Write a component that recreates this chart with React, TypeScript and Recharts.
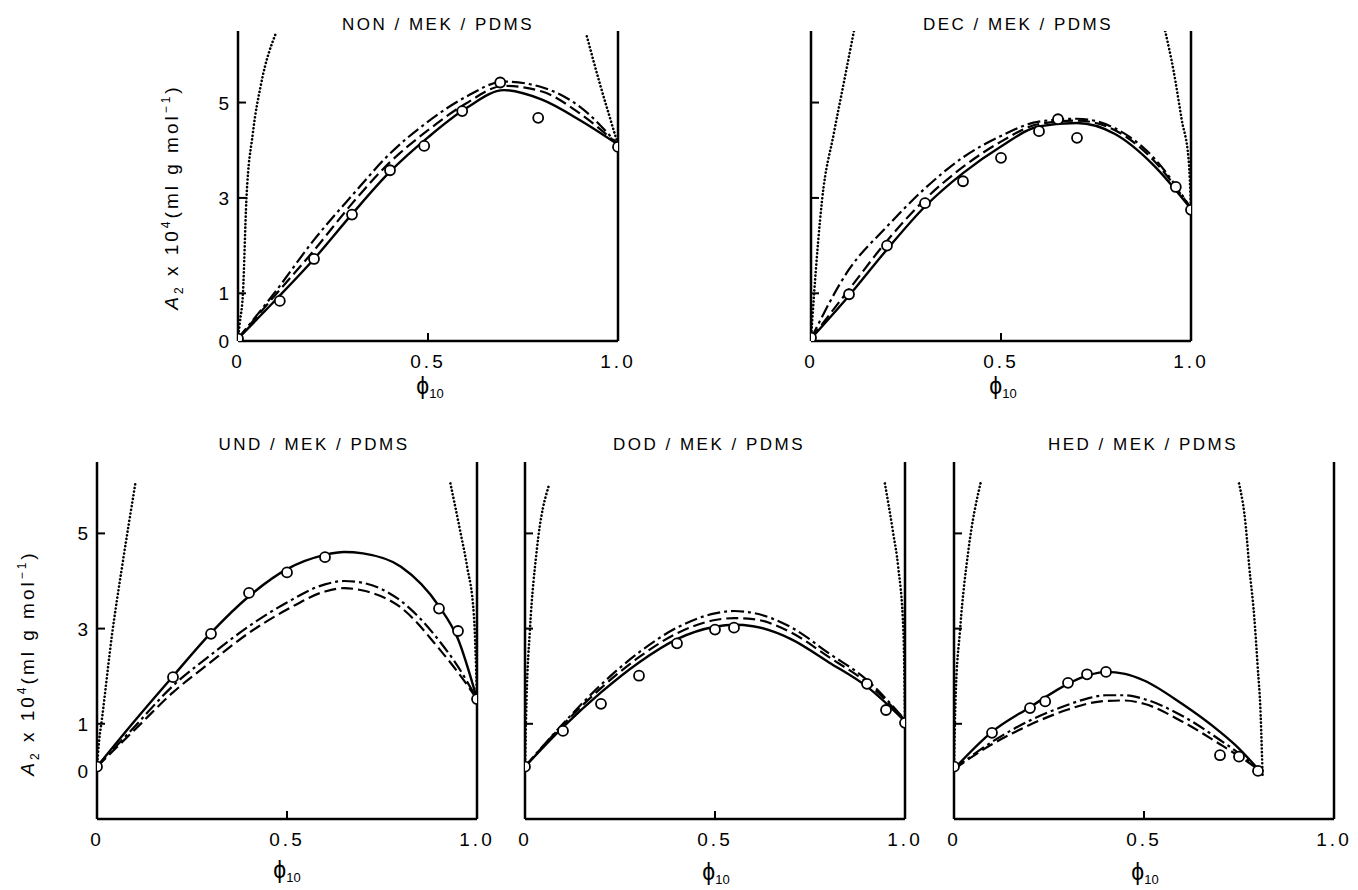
import React from "react";
import { ComposedChart, Line, Scatter, XAxis, YAxis, ReferenceLine } from "recharts";

const FONT = '"Liberation Sans", Arial, sans-serif';

// NON / MEK / PDMS
const nonExpX = [0, 0.11, 0.2, 0.3, 0.4, 0.49, 0.59, 0.69, 0.79, 1.0];
const nonExpY = [0.05, 0.84, 1.72, 2.65, 3.58, 4.09, 4.82, 5.42, 4.68, 4.07];
const nonCurveX = [0, 0.1, 0.2, 0.3, 0.4, 0.5, 0.6, 0.7, 0.8, 0.9, 1.0];
const nonSolidY = [0.05, 0.87, 1.72, 2.66, 3.55, 4.27, 4.88, 5.26, 5.06, 4.63, 4.12];
const nonDashedY = [0.05, 0.98, 1.9, 2.88, 3.75, 4.42, 4.98, 5.35, 5.23, 4.77, 4.12];
const nonDashDotY = [0.05, 1.05, 2.12, 3.05, 3.93, 4.6, 5.12, 5.44, 5.32, 4.91, 4.12];
const nonDotLeftX = [0, 0.005, 0.013, 0.022, 0.039, 0.061, 0.1];
const nonDotLeftY = [0.05, 0.4, 1.0, 2.95, 4.35, 5.4, 6.46];
const nonDotRightX = [0.918, 0.952, 0.978, 0.995, 1.0];
const nonDotRightY = [6.39, 5.4, 4.7, 4.25, 4.12];

// DEC / MEK / PDMS
const decExpX = [0, 0.1, 0.2, 0.3, 0.4, 0.5, 0.6, 0.65, 0.7, 0.96, 1.0];
const decExpY = [0.07, 0.98, 2.0, 2.89, 3.35, 3.84, 4.4, 4.65, 4.26, 3.23, 2.75];
const decCurveX = [0, 0.1, 0.2, 0.3, 0.4, 0.5, 0.6, 0.7, 0.8, 0.9, 1.0];
const decSolidY = [0.05, 0.95, 1.92, 2.82, 3.52, 4.08, 4.5, 4.57, 4.34, 3.7, 2.77];
const decDashedY = [0.05, 1.08, 2.1, 2.97, 3.65, 4.18, 4.55, 4.62, 4.42, 3.8, 2.78];
const decDashDotY = [0.05, 1.5, 2.4, 3.2, 3.85, 4.3, 4.6, 4.66, 4.46, 3.86, 2.78];
const decDotLeftX = [0, 0.008, 0.029, 0.06, 0.086, 0.113];
const decDotLeftY = [0.05, 0.98, 2.95, 4.35, 5.4, 6.5];
const decDotRightX = [0.932, 0.954, 0.976, 0.994, 1.0];
const decDotRightY = [6.5, 5.67, 4.62, 3.78, 2.8];

// UND / MEK / PDMS
const undExpX = [0, 0.2, 0.3, 0.4, 0.5, 0.6, 0.9, 0.95, 1.0];
const undExpY = [0.1, 1.98, 2.89, 3.75, 4.18, 4.5, 3.42, 2.95, 1.52];
const undCurveX = [0, 0.1, 0.2, 0.3, 0.4, 0.5, 0.6, 0.65, 0.7, 0.8, 0.9, 0.95, 1.0];
const undSolidY = [0.1, 1.07, 2.0, 2.91, 3.68, 4.25, 4.55, 4.61, 4.58, 4.3, 3.47, 2.78, 1.52];
const undDashedY = [0.1, 0.88, 1.66, 2.3, 2.91, 3.4, 3.78, 3.85, 3.8, 3.44, 2.58, 2.08, 1.52];
const undDashDotY = [0.1, 0.95, 1.8, 2.45, 3.05, 3.55, 3.93, 4.0, 3.96, 3.58, 2.75, 2.2, 1.52];
const undDotLeftX = [0, 0.005, 0.013, 0.04, 0.066, 0.101];
const undDotLeftY = [0.1, 0.6, 1.1, 2.9, 4.3, 6.05];
const undDotRightX = [0.93, 0.957, 0.974, 0.992, 1.0];
const undDotRightY = [6.05, 5.0, 4.3, 3.26, 1.55];

// DOD / MEK / PDMS
const dodExpX = [0, 0.1, 0.2, 0.3, 0.4, 0.5, 0.55, 0.9, 0.95, 1.0];
const dodExpY = [0.1, 0.85, 1.42, 2.01, 2.69, 2.98, 3.02, 1.84, 1.29, 1.02];
const dodCurveX = [0, 0.1, 0.2, 0.3, 0.4, 0.5, 0.55, 0.6, 0.7, 0.8, 0.9, 1.0];
const dodSolidY = [0.1, 0.93, 1.66, 2.29, 2.78, 3.04, 3.08, 3.05, 2.78, 2.29, 1.78, 1.05];
const dodDashedY = [0.1, 0.98, 1.75, 2.4, 2.9, 3.18, 3.22, 3.2, 2.92, 2.4, 1.86, 1.08];
const dodDashDotY = [0.1, 1.0, 1.82, 2.5, 3.02, 3.32, 3.37, 3.33, 3.03, 2.48, 1.92, 1.08];
const dodDotLeftX = [0, 0.004, 0.013, 0.031, 0.063];
const dodDotLeftY = [0.1, 1.5, 2.98, 4.65, 6.01];
const dodDotRightX = [0.947, 0.969, 0.982, 0.996, 1.0];
const dodDotRightY = [6.05, 5.0, 4.3, 2.9, 1.08];

// HED / MEK / PDMS
const hedExpX = [0, 0.1, 0.2, 0.24, 0.3, 0.35, 0.4, 0.7, 0.75, 0.8];
const hedExpY = [0.1, 0.81, 1.33, 1.47, 1.86, 2.04, 2.09, 0.34, 0.31, 0.01];
const hedCurveX = [0, 0.1, 0.2, 0.3, 0.35, 0.4, 0.45, 0.5, 0.6, 0.7, 0.75, 0.8];
const hedSolidY = [0.05, 0.83, 1.35, 1.84, 2.01, 2.09, 2.05, 1.91, 1.42, 0.83, 0.48, 0.05];
const hedDashedY = [0.05, 0.57, 0.98, 1.3, 1.42, 1.48, 1.49, 1.42, 1.05, 0.57, 0.32, 0.05];
const hedDashDotY = [0.05, 0.62, 1.07, 1.4, 1.53, 1.6, 1.6, 1.52, 1.17, 0.66, 0.38, 0.05];
const hedDotLeftX = [0, 0.004, 0.016, 0.038, 0.07];
const hedDotLeftY = [0.1, 1.5, 2.98, 4.65, 6.06];
const hedDotRightX = [0.75, 0.768, 0.777, 0.79, 0.799, 0.807, 0.812];
const hedDotRightY = [6.05, 5.14, 4.3, 3.26, 2.22, 1.18, -0.08];

const xTicks = [0, 0.5, 1];
const yTicks = [0, 1, 3, 5];

type Pt = { x: number; y: number };
const zip = (xs: number[], ys: number[]): Pt[] => xs.map((x, i) => ({ x, y: ys[i] }));

interface PanelDef {
  title: string;
  left: number;
  top: number;
  height: number;
  yMin: number;
  showYLabels: boolean;
  exp: Pt[];
  solid: Pt[];
  dashed: Pt[];
  dashDot: Pt[];
  dotLeft: Pt[];
  dotRight: Pt[];
}

const PLOT_W = 380;
const M_LEFT = 10;
const Y_W = 50;
const M_TOP = 20;
const X_H = 60;

const XTick = (props: any) => {
  const { x, y, payload } = props;
  const v = payload.value;
  const label = v === 0 ? "0" : v.toFixed(1);
  return (
    <g>
      {v > 0 && v < 1 && <line x1={x} x2={x} y1={y} y2={y - 8} stroke="#000" strokeWidth={2} />}
      <text x={x} y={y + 27} textAnchor="middle" fontFamily={FONT} fontSize={19} letterSpacing={3} fill="#000">
        {label}
      </text>
    </g>
  );
};

const makeYTick = (showLabels: boolean) => (props: any) => {
  const { x, y, payload } = props;
  return (
    <g>
      {payload.value > 0 && <line x1={x} x2={x + 8} y1={y} y2={y} stroke="#000" strokeWidth={2} />}
      {showLabels && (
        <text x={x - 9} y={y + 7} textAnchor="end" fontFamily={FONT} fontSize={19} fill="#000">
          {payload.value}
        </text>
      )}
    </g>
  );
};

const OpenCircle = (props: any) => (
  <circle cx={props.cx} cy={props.cy} r={5} fill="#fff" stroke="#000" strokeWidth={1.8} />
);

const Panel = ({ p }: { p: PanelDef }) => {
  const w = PLOT_W + M_LEFT + Y_W + 20;
  const h = p.height + M_TOP + X_H;
  const common = {
    type: "monotone" as const,
    dataKey: "y",
    stroke: "#000",
    dot: false,
    activeDot: false,
    isAnimationActive: false,
  };
  return (
    <div style={{ position: "absolute", left: p.left - M_LEFT - Y_W, top: p.top - M_TOP }}>
      <ComposedChart width={w} height={h} margin={{ top: M_TOP, right: 20, bottom: 0, left: M_LEFT }}>
        <XAxis
          type="number"
          dataKey="x"
          domain={[0, 1]}
          ticks={xTicks}
          interval={0}
          allowDataOverflow
          height={X_H}
          tickSize={0}
          tickMargin={0}
          tickLine={false}
          axisLine={{ stroke: "#000", strokeWidth: 2.5 }}
          tick={XTick}
        />
        <YAxis
          type="number"
          dataKey="y"
          domain={[p.yMin, 6.5]}
          ticks={yTicks}
          interval={0}
          allowDataOverflow
          width={Y_W}
          tickSize={0}
          tickMargin={0}
          tickLine={false}
          axisLine={{ stroke: "#000", strokeWidth: 2.5 }}
          tick={makeYTick(p.showYLabels)}
        />
        <ReferenceLine x={1} stroke="#000" strokeWidth={2.5} />
        <Line {...common} data={p.dotLeft} strokeWidth={2.6} strokeLinecap="round" strokeDasharray="0.1 3.6" />
        <Line {...common} data={p.dotRight} strokeWidth={2.6} strokeLinecap="round" strokeDasharray="0.1 3.6" />
        <Line {...common} data={p.dashDot} strokeWidth={2.2} strokeDasharray="13 4 3 4" />
        <Line {...common} data={p.dashed} strokeWidth={2.2} strokeDasharray="12 5" />
        <Line {...common} data={p.solid} strokeWidth={2.4} />
        <Scatter data={p.exp} shape={OpenCircle} isAnimationActive={false} />
      </ComposedChart>
    </div>
  );
};

const panels: PanelDef[] = [
  {
    title: "NON / MEK / PDMS",
    left: 238, top: 31, height: 310, yMin: 0, showYLabels: true,
    exp: zip(nonExpX, nonExpY),
    solid: zip(nonCurveX, nonSolidY),
    dashed: zip(nonCurveX, nonDashedY),
    dashDot: zip(nonCurveX, nonDashDotY),
    dotLeft: zip(nonDotLeftX, nonDotLeftY),
    dotRight: zip(nonDotRightX, nonDotRightY),
  },
  {
    title: "DEC / MEK / PDMS",
    left: 811, top: 31, height: 310, yMin: 0, showYLabels: false,
    exp: zip(decExpX, decExpY),
    solid: zip(decCurveX, decSolidY),
    dashed: zip(decCurveX, decDashedY),
    dashDot: zip(decCurveX, decDashDotY),
    dotLeft: zip(decDotLeftX, decDotLeftY),
    dotRight: zip(decDotRightX, decDotRightY),
  },
  {
    title: "UND / MEK / PDMS",
    left: 97, top: 462, height: 357, yMin: -1, showYLabels: true,
    exp: zip(undExpX, undExpY),
    solid: zip(undCurveX, undSolidY),
    dashed: zip(undCurveX, undDashedY),
    dashDot: zip(undCurveX, undDashDotY),
    dotLeft: zip(undDotLeftX, undDotLeftY),
    dotRight: zip(undDotRightX, undDotRightY),
  },
  {
    title: "DOD / MEK / PDMS",
    left: 525, top: 462, height: 357, yMin: -1, showYLabels: false,
    exp: zip(dodExpX, dodExpY),
    solid: zip(dodCurveX, dodSolidY),
    dashed: zip(dodCurveX, dodDashedY),
    dashDot: zip(dodCurveX, dodDashDotY),
    dotLeft: zip(dodDotLeftX, dodDotLeftY),
    dotRight: zip(dodDotRightX, dodDotRightY),
  },
  {
    title: "HED / MEK / PDMS",
    left: 954, top: 462, height: 357, yMin: -1, showYLabels: false,
    exp: zip(hedExpX, hedExpY),
    solid: zip(hedCurveX, hedSolidY),
    dashed: zip(hedCurveX, hedDashedY),
    dashDot: zip(hedCurveX, hedDashDotY),
    dotLeft: zip(hedDotLeftX, hedDotLeftY),
    dotRight: zip(hedDotRightX, hedDotRightY),
  },
];

const Title = ({ text, cx, cy }: { text: string; cx: number; cy: number }) => (
  <div
    style={{
      position: "absolute", left: cx - 150, top: cy - 10, width: 300, height: 20, lineHeight: "20px",
      textAlign: "center", fontFamily: FONT, fontSize: 17, letterSpacing: 2.5, whiteSpace: "nowrap",
    }}
  >
    {text}
  </div>
);

const PhiLabel = ({ cx, cy }: { cx: number; cy: number }) => (
  <div
    style={{
      position: "absolute", left: cx - 40, top: cy - 14, width: 80, height: 28, lineHeight: "28px",
      textAlign: "center", fontFamily: FONT, fontSize: 23, whiteSpace: "nowrap",
    }}
  >
    ϕ<span style={{ fontSize: 13, position: "relative", top: 4 }}>10</span>
  </div>
);

const YLabel = ({ cx, cy }: { cx: number; cy: number }) => (
  <div
    style={{
      position: "absolute", left: cx - 140, top: cy - 14, width: 280, height: 28, lineHeight: "28px",
      textAlign: "center", fontFamily: FONT, fontSize: 19, letterSpacing: 3, whiteSpace: "nowrap",
      transform: "rotate(-90deg)",
    }}
  >
    <i>A</i>
    <span style={{ fontSize: 12, position: "relative", top: 5 }}>2</span> x 10
    <span style={{ fontSize: 12, position: "relative", top: -8 }}>4</span>(ml g mol
    <span style={{ fontSize: 12, position: "relative", top: -8 }}>−1</span>)
  </div>
);

const titlePos = [
  { cx: 438, cy: 25 },
  { cx: 1018, cy: 25 },
  { cx: 314, cy: 445 },
  { cx: 709, cy: 445 },
  { cx: 1143, cy: 445 },
];

const phiPos = [
  { cx: 430, cy: 386 },
  { cx: 1003, cy: 386 },
  { cx: 287, cy: 870 },
  { cx: 716, cy: 872 },
  { cx: 1145, cy: 872 },
];

export default function App() {
  return (
    <div style={{ position: "absolute", left: 0, top: 0, width: 1358, height: 890, background: "#fff", overflow: "hidden" }}>
      {panels.map((p) => (
        <Panel key={p.title} p={p} />
      ))}
      {panels.map((p, i) => (
        <Title key={p.title} text={p.title} cx={titlePos[i].cx} cy={titlePos[i].cy} />
      ))}
      {phiPos.map((pos, i) => (
        <PhiLabel key={i} cx={pos.cx} cy={pos.cy} />
      ))}
      <YLabel cx={172} cy={197} />
      <YLabel cx={28} cy={663} />
    </div>
  );
}
